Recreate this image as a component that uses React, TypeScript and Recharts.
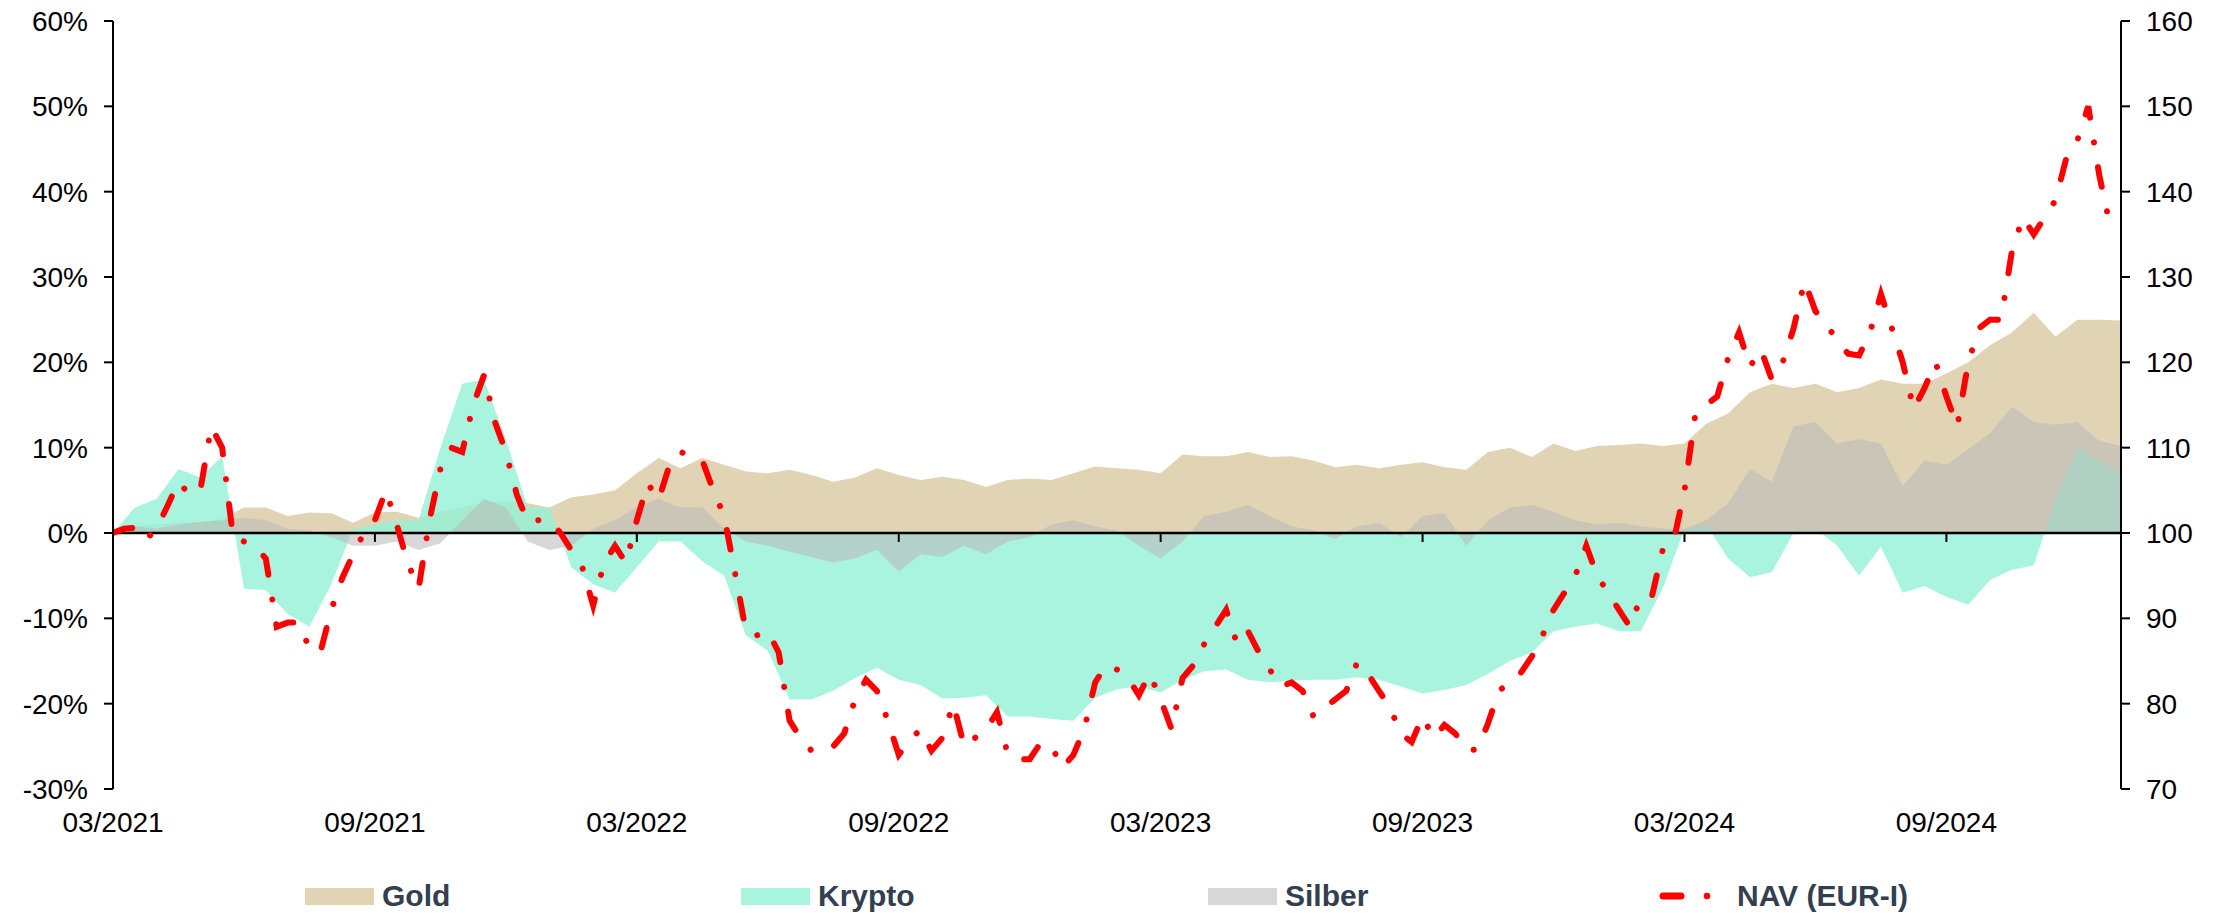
import React from 'react';
import { ComposedChart, Area, Line, XAxis, YAxis, ReferenceLine } from 'recharts';

// month index: 0 = 03/2021
const NAV_STEP = 0.25;
const AREA_EVERY = 2; // area series sampled every 2nd NAV step (0.5 month)
const xTickMonths = [0, 6, 12, 18, 24, 30, 36, 42];
const xTickLabels = ['03/2021', '09/2021', '03/2022', '09/2022', '03/2023', '09/2023', '03/2024', '09/2024'];
const leftTicks = [-30, -20, -10, 0, 10, 20, 30, 40, 50, 60];
const rightTicks = [70, 80, 90, 100, 110, 120, 130, 140, 150, 160];

// percent contributions, every half month
const gold = [
  0.3, 0.8, 1.0, 1.2, 1.3, 1.6, 3.0, 3.0, 2.0, 2.4, 2.3, 1.2, 2.4, 2.5, 1.8, 2.5,
  3.0, 3.6, 3.8, 3.5, 3.0, 4.2, 4.5, 5.0, 7.0, 8.8, 7.6, 8.8, 8.0, 7.2, 7.0, 7.4,
  6.8, 6.0, 6.5, 7.6, 6.8, 6.2, 6.6, 6.2, 5.4, 6.2, 6.4, 6.2, 7.0, 7.8, 7.6, 7.4,
  7.0, 9.2, 9.0, 9.0, 9.5, 8.9, 9.0, 8.5, 7.7, 8.0, 7.6, 8.0, 8.3, 7.7, 7.4, 9.5,
  10.0, 8.9, 10.5, 9.6, 10.2, 10.3, 10.5, 10.2, 10.5, 12.8, 14.0, 16.5, 17.5, 17.0, 17.5, 16.5,
  17.0, 18.0, 17.5, 17.5, 18.7, 20.0, 22.0, 23.5, 25.8, 23.0, 25.0, 25.0, 24.9,
];
const krypto = [
  0.0, 3.0, 4.0, 7.5, 6.5, 9.0, -6.5, -6.7, -9.5, -11.0, -6.0, 0.5, 1.0, 1.5, 1.5, 10.0,
  17.5, 18.0, 11.0, 3.0, 3.0, -4.0, -6.0, -7.0, -4.0, -1.0, -1.0, -3.3, -5.0, -12.0, -13.8, -19.5,
  -19.5, -18.5, -17.0, -15.8, -17.2, -17.8, -19.4, -19.3, -19.0, -21.5, -21.5, -21.8, -22.0, -19.3, -18.3, -18.0,
  -18.7, -17.2, -16.2, -16.0, -17.2, -17.5, -17.3, -17.2, -17.2, -16.9, -17.2, -18.0, -18.8, -18.4, -17.8, -16.5,
  -15.0, -14.0, -11.5, -11.0, -10.6, -11.5, -11.5, -6.5, 0.5, 1.0, -3.0, -5.2, -4.6, 0.0, 0.5, -1.5,
  -5.0, -1.6, -7.0, -6.2, -7.5, -8.4, -5.5, -4.3, -3.8, 4.0, 10.0, 8.5, 7.0,
];
const silber = [
  0.5, 0.8, 0.5, 1.0, 1.3, 1.5, 1.8, 1.5, 0.5, 0.3, -0.5, -1.5, -1.5, -1.0, -2.0, -1.2,
  1.5, 4.0, 3.0, -1.0, -2.0, -1.5, 0.5, 1.5, 3.0, 4.0, 3.0, 3.0, 0.5, -1.0, -1.5, -2.2,
  -2.8, -3.5, -3.0, -2.0, -4.5, -2.5, -2.8, -1.5, -2.5, -1.0, -0.5, 1.0, 1.5, 0.8, 0.3, -1.5,
  -3.0, -1.0, 2.0, 2.5, 3.3, 2.0, 0.8, 0.3, -0.7, 0.8, 1.2, -0.5, 2.0, 2.3, -1.5, 1.5,
  3.0, 3.3, 2.5, 1.5, 1.0, 1.2, 0.8, 0.5, 0.5, 1.5, 3.5, 7.5, 6.0, 12.5, 13.0, 10.5,
  11.0, 10.5, 5.5, 8.5, 8.0, 9.8, 11.7, 14.8, 13.0, 12.7, 13.0, 10.8, 10.2,
];
// NAV (EUR-I), indexed to 100, every quarter month
const nav = [
  100.0, 100.5, 100.6, 99.2, 100.5, 103.2, 106.0, 104.5, 105.0, 112.5, 110.0, 99.5, 99.0, 98.5, 97.0, 89.0,
  89.5, 89.5, 86.5, 86.0, 91.0, 94.7, 97.5, 100.0, 101.5, 105.0, 101.0, 96.5, 93.5, 101.5, 107.5, 110.0,
  109.5, 115.0, 118.5, 113.0, 109.5, 104.5, 101.3, 101.5, 101.5, 100.0, 98.0, 96.0, 91.5, 96.5, 98.5, 96.5,
  101.5, 105.8, 103.9, 108.0, 109.5, 109.0, 108.5, 105.0, 102.0, 95.3, 88.5, 88.0, 88.5, 86.0, 78.0, 76.0,
  74.5, 75.0, 75.0, 76.5, 80.5, 82.8, 81.5, 78.0, 74.0, 75.7, 77.0, 74.5, 76.0, 80.0, 75.0, 76.0,
  77.0, 79.0, 74.0, 73.5, 73.5, 75.4, 75.0, 72.5, 74.0, 77.0, 82.5, 84.5, 84.0, 83.0, 81.0, 83.5,
  80.5, 77.0, 83.0, 84.5, 87.0, 89.0, 91.0, 87.0, 88.5, 86.0, 84.0, 82.0, 82.5, 81.5, 78.5, 79.5,
  80.5, 81.5, 84.8, 83.5, 81.5, 79.6, 76.5, 75.5, 78.5, 76.0, 77.5, 76.5, 74.6, 74.6, 77.7, 81.5,
  82.5, 83.6, 85.5, 88.0, 91.0, 93.0, 95.0, 98.5, 95.0, 93.0, 91.0, 89.0, 92.5, 92.5, 98.0, 99.0,
  105.0, 114.0, 115.0, 116.0, 120.5, 123.5, 119.5, 121.5, 118.0, 120.0, 124.0, 129.5, 126.0, 124.5, 122.5, 121.0,
  120.8, 123.5, 128.0, 124.0, 120.0, 114.5, 117.0, 120.0, 116.0, 112.5, 120.0, 124.0, 125.0, 125.0, 133.0, 137.0,
  135.0, 137.0, 139.0, 144.0, 146.0, 150.0, 142.0, 136.0,
];

const TOTAL_STEPS = (gold.length - 1) * AREA_EVERY;
const data: any[] = [];
for (let i = 0; i <= TOTAL_STEPS; i++) {
  const row: any = { m: i * NAV_STEP };
  if (i % AREA_EVERY === 0) {
    const k = i / AREA_EVERY;
    row.gold = gold[k];
    row.krypto = krypto[k];
    row.silber = silber[k];
  }
  if (i < nav.length) row.nav = nav[i];
  data.push(row);
}

const FONT = '"Liberation Sans", Arial, Helvetica, sans-serif';
const GOLD_FILL = '#E1D4B4';
const KRYPTO_FILL = '#93F1D7';
const KRYPTO_OPACITY = 0.8;
const SILBER_FILL = '#BBBBBB';
const SILBER_OPACITY = 0.57;
const NAV_COLOR = '#FF0000';
const LEGEND_TEXT = '#333F4F';

const tickStyle = { fontSize: 28, fill: '#000', fontFamily: FONT };

const legendItems = [
  { name: 'Gold', color: '#E1D4B4', kind: 'box', left: 305 },
  { name: 'Krypto', color: '#A9F4DF', kind: 'box', left: 741 },
  { name: 'Silber', color: '#D8D8D8', kind: 'box', left: 1208 },
  { name: 'NAV (EUR-I)', color: NAV_COLOR, kind: 'line', left: 1659 },
];

export default function App() {
  return (
    <div style={{ position: 'absolute', left: 0, top: 0, width: 2221, height: 913, background: '#fff', fontFamily: FONT }}>
      <ComposedChart
        width={2221}
        height={913}
        data={data}
        margin={{ top: 21, right: 10, left: 23, bottom: 64 }}
      >
        <XAxis
          dataKey="m"
          type="number"
          domain={[0, 46]}
          ticks={xTickMonths}
          tickFormatter={(v: number) => xTickLabels[xTickMonths.indexOf(v)] ?? ''}
          axisLine={false}
          tickLine={false}
          tickSize={0}
          tickMargin={23}
          height={60}
          tick={tickStyle}
          interval={0}
          allowDataOverflow
        />
        <YAxis
          yAxisId="left"
          orientation="left"
          domain={[-30, 60]}
          ticks={leftTicks}
          tickFormatter={(v: number) => `${v}%`}
          width={90}
          axisLine={{ stroke: '#000', strokeWidth: 2 }}
          tickLine={{ stroke: '#000', strokeWidth: 2 }}
          tickSize={9}
          tickMargin={16}
          tick={tickStyle}
          interval={0}
          allowDataOverflow
        />
        <YAxis
          yAxisId="right"
          orientation="right"
          domain={[70, 160]}
          ticks={rightTicks}
          width={90}
          axisLine={{ stroke: '#000', strokeWidth: 2 }}
          tickLine={{ stroke: '#000', strokeWidth: 2 }}
          tickSize={9}
          tickMargin={16}
          tick={tickStyle}
          interval={0}
          allowDataOverflow
        />
        <Area
          yAxisId="left"
          dataKey="gold"
          type="linear"
          baseValue={0}
          fill={GOLD_FILL}
          fillOpacity={1}
          stroke="none"
          connectNulls
          isAnimationActive={false}
        />
        <Area
          yAxisId="left"
          dataKey="krypto"
          type="linear"
          baseValue={0}
          fill={KRYPTO_FILL}
          fillOpacity={KRYPTO_OPACITY}
          stroke="none"
          connectNulls
          isAnimationActive={false}
        />
        <Area
          yAxisId="left"
          dataKey="silber"
          type="linear"
          baseValue={0}
          fill={SILBER_FILL}
          fillOpacity={SILBER_OPACITY}
          stroke="none"
          connectNulls
          isAnimationActive={false}
        />
        <ReferenceLine yAxisId="left" y={0} stroke="#000" strokeWidth={2.5} />
        {xTickMonths.slice(1).map((t) => (
          <ReferenceLine
            key={t}
            yAxisId="left"
            segment={[{ x: t, y: 0 }, { x: t, y: -1.05 }]}
            stroke="#000"
            strokeWidth={2}
          />
        ))}
        <Line
          yAxisId="right"
          dataKey="nav"
          type="linear"
          stroke={NAV_COLOR}
          strokeWidth={6}
          strokeDasharray="20 25 0.1 25"
          strokeLinecap="round"
          dot={false}
          activeDot={false}
          connectNulls
          isAnimationActive={false}
        />
      </ComposedChart>
      {legendItems.map((it) => (
        <div key={it.name} style={{ position: 'absolute', left: it.left, top: 881, height: 30, display: 'flex', alignItems: 'flex-start' }}>
          {it.kind === 'box' ? (
            <div style={{ width: 69, height: 17, background: it.color, marginTop: 7, marginRight: 8 }} />
          ) : (
            <svg width={78} height={30} style={{ display: 'block' }}>
              <line x1={4} y1={15} x2={22} y2={15} stroke={it.color} strokeWidth={7} strokeLinecap="round" />
              <circle cx={48} cy={15} r={3.3} fill={it.color} />
            </svg>
          )}
          <span style={{ fontSize: 30, lineHeight: '30px', fontWeight: 'bold', color: LEGEND_TEXT, fontFamily: FONT }}>{it.name}</span>
        </div>
      ))}
    </div>
  );
}
